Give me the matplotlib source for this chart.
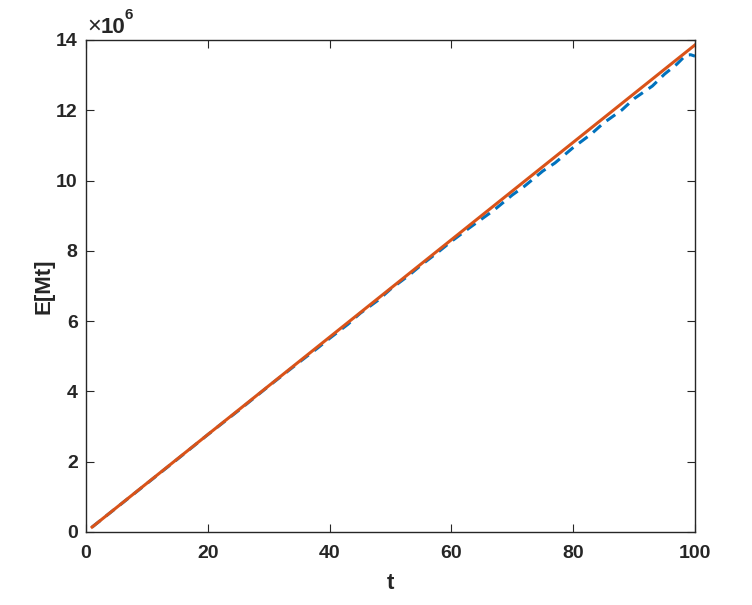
import matplotlib
matplotlib.use("Agg")
import matplotlib.pyplot as plt
import numpy as np

# Data (values in units of 1e6 Mt)
t_fit = [1, 100]
E_fit = [0.14, 13.86]

t_sim = [1, 5, 10, 15, 20, 25, 30, 35, 38, 40, 43, 45, 48, 50, 53, 55, 58, 60,
         63, 65, 67, 70, 72, 75, 77, 80, 83, 85, 88, 90, 93, 95, 97, 98.5, 99.3, 100]
E_sim = [0.14, 0.69, 1.38, 2.07, 2.77, 3.45, 4.15, 4.83, 5.23, 5.51, 5.91, 6.22,
         6.60, 6.91, 7.30, 7.59, 7.99, 8.27, 8.66, 8.91, 9.16, 9.59, 9.84, 10.27,
         10.50, 10.94, 11.33, 11.64, 12.01, 12.33, 12.69, 13.03, 13.31, 13.57, 13.58, 13.54]

scale = 1e6

plt.rcParams['font.family'] = ['Liberation Sans', 'DejaVu Sans']
fig = plt.figure(figsize=(7.52, 6.05), dpi=100)
ax = fig.add_axes([86/752, 1-532/605, (695-86)/752, (532-40)/605])

ax.plot(np.array(t_sim), np.array(E_sim)*scale, color='#0072BD', lw=2.2,
        linestyle=(0, (3.5, 2.3)))
ax.plot(np.array(t_fit), np.array(E_fit)*scale, color='#D95319', lw=2.2)

ax.set_xlim(0, 100)
ax.set_ylim(0, 14e6)
ax.set_xticks([0, 20, 40, 60, 80, 100])
ax.set_yticks(np.arange(0, 15, 2)*scale)
ax.set_yticklabels([str(v) for v in range(0, 15, 2)])
ax.tick_params(direction='in', top=True, right=True, length=6, width=0.8,
               color='#262626', labelsize=14, pad=6)
ax.tick_params(axis='x', pad=9)
for lab in ax.get_xticklabels() + ax.get_yticklabels():
    lab.set_fontweight('bold')
    lab.set_color('#262626')
for s in ax.spines.values():
    s.set_linewidth(1.0)
    s.set_color('#262626')

# offset (exponent) label
ax.text(0.0015, 1.014, '\u00d7', transform=ax.transAxes,
        fontsize=17, color='#262626', ha='left', va='baseline')
ax.text(0.024, 1.014, '10', transform=ax.transAxes, fontweight='bold',
        fontsize=16, color='#262626', ha='left', va='baseline')
ax.text(0.064, 1.042, '6', transform=ax.transAxes, fontweight='bold',
        fontsize=11, color='#262626', ha='left', va='baseline')

ax.set_xlabel('t', fontsize=16, fontweight='bold', color='#262626', labelpad=8)
ax.set_ylabel('E[Mt]', fontsize=16, fontweight='bold', color='#262626', labelpad=1)

fig.savefig('out.png', dpi=100)
